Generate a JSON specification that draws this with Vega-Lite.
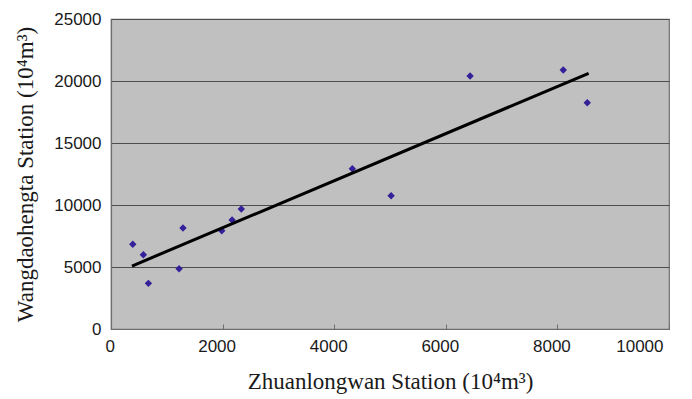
{
  "$schema": "https://vega.github.io/schema/vega-lite/v6.json",
  "autosize": "none",
  "width": 558,
  "height": 310,
  "padding": {"left": 111, "top": 19, "right": 23, "bottom": 70},
  "background": "white",
  "view": {"fill": "#c0c0c0", "stroke": "#6e6e6e", "strokeWidth": 1.2},
  "datasets": {
    "points": [
      {"x": 390, "y": 6830},
      {"x": 580, "y": 5990},
      {"x": 670, "y": 3680},
      {"x": 1220, "y": 4860},
      {"x": 1290, "y": 8150},
      {"x": 1985, "y": 7930},
      {"x": 2170, "y": 8790},
      {"x": 2335, "y": 9680},
      {"x": 4325, "y": 12930},
      {"x": 5020, "y": 10750},
      {"x": 6435, "y": 20400},
      {"x": 8105, "y": 20890},
      {"x": 8535, "y": 18250}
    ],
    "trend": [
      {"x": 376, "y": 5080},
      {"x": 8560, "y": 20620}
    ]
  },
  "config": {
    "font": "Liberation Serif",
    "axis": {
      "labelFont": "Liberation Sans",
      "titleFont": "Liberation Serif",
      "labelFontSize": 17,
      "titleFontSize": 23,
      "titleFontWeight": "normal",
      "labelColor": "#1a1a1a",
      "titleColor": "#1a1a1a",
      "domainColor": "#6e6e6e",
      "domainWidth": 1.2,
      "tickColor": "#6e6e6e",
      "format": "d"
    }
  },
  "layer": [
    {
      "data": {"name": "points"},
      "mark": {"type": "point", "shape": "diamond", "filled": true, "size": 55, "color": "#35209a", "opacity": 1},
      "encoding": {
        "x": {
          "field": "x", "type": "quantitative",
          "scale": {"domain": [0, 10000], "nice": false, "zero": true},
          "axis": {
            "title": "Zhuanlongwan Station (10⁴m³)",
            "values": [0, 2000, 4000, 6000, 8000, 10000],
            "grid": false,
            "tickSize": -5,
            "labelPadding": 14,
            "labelOffset": -6,
            "titlePadding": 16
          }
        },
        "y": {
          "field": "y", "type": "quantitative",
          "scale": {"domain": [0, 25000], "nice": false},
          "axis": {
            "title": "Wangdaohengta Station (10⁴m³)",
            "values": [0, 5000, 10000, 15000, 20000, 25000],
            "grid": true,
            "gridColor": "#4d4d4d",
            "gridWidth": 1.2,
            "gridOpacity": 1,
            "ticks": false,
            "labelPadding": 10,
            "titlePadding": 16
          }
        }
      }
    },
    {
      "data": {"name": "trend"},
      "mark": {"type": "line", "color": "#000000", "strokeWidth": 3},
      "encoding": {
        "x": {"field": "x", "type": "quantitative"},
        "y": {"field": "y", "type": "quantitative"}
      }
    }
  ]
}
